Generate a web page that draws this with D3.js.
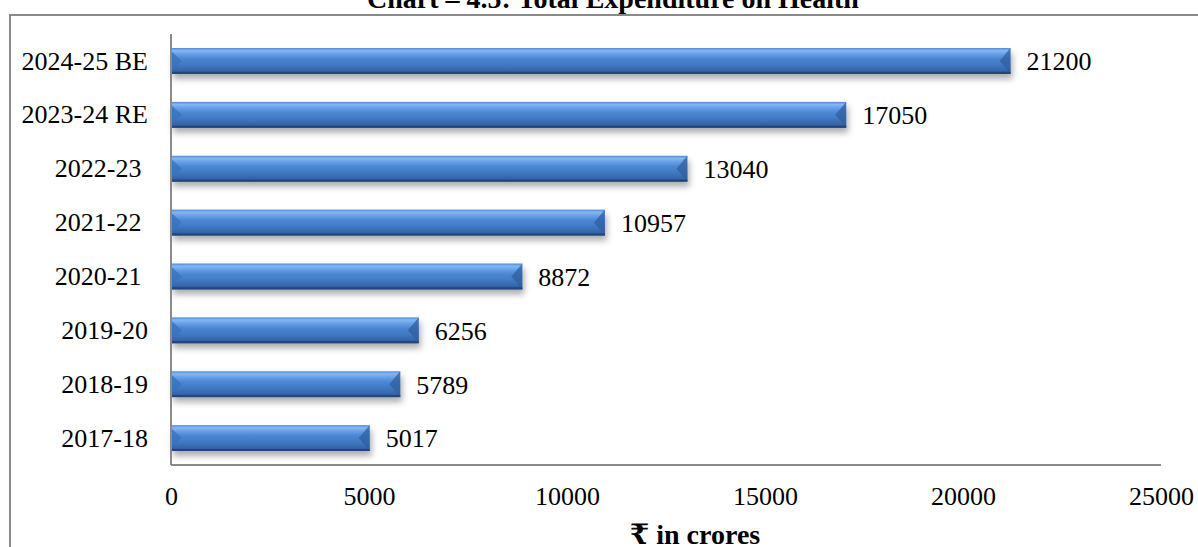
<!DOCTYPE html>
<html>
<head>
<meta charset="utf-8">
<script src="https://cdn.jsdelivr.net/npm/d3@7/dist/d3.min.js"></script>
<style>
  html, body { margin: 0; padding: 0; background: #fff; }
  svg { display: block; font-family: "Liberation Serif", "Times New Roman", "DejaVu Serif", serif; }
</style>
</head>
<body>
<svg id="chart" width="1198" height="547"></svg>
<script>
// Total expenditure on health, ₹ in crores
const categories = ["2024-25 BE", "2023-24 RE", "2022-23 ", "2021-22 ", "2020-21 ", "2019-20", "2018-19", "2017-18"];
const values = [21200, 17050, 13040, 10957, 8872, 6256, 5789, 5017];
const xTicks = [0, 5000, 10000, 15000, 20000, 25000];

const svg = d3.select("#chart");
const W = 1198, H = 547;
const plot = { left: 171, right: 1161, top: 34, bottom: 465 };
const FS = 26;

const x = d3.scaleLinear().domain([0, 25000]).range([plot.left, plot.right]);
const y = d3.scaleBand().domain(categories).range([plot.top, plot.bottom])
  .paddingInner(0.52).paddingOuter(0.26);

const defs = svg.append("defs");

// body gradient for the bevelled bars
const g = defs.append("linearGradient").attr("id", "barBody")
  .attr("x1", 0).attr("y1", 0).attr("x2", 0).attr("y2", 1);
[[0, "#4f8ad8"], [0.1, "#84b8f2"], [0.22, "#6aa2e8"], [0.4, "#4d88d4"],
 [0.65, "#4079c4"], [0.88, "#3465a8"], [1, "#264a80"]]
  .forEach(([o, c]) => g.append("stop").attr("offset", o).attr("stop-color", c));

const f = defs.append("filter").attr("id", "barShadow")
  .attr("x", "-5%").attr("y", "-30%").attr("width", "110%").attr("height", "190%");
f.append("feDropShadow").attr("dx", 2).attr("dy", 5).attr("stdDeviation", 3)
  .attr("flood-color", "#000").attr("flood-opacity", 0.32);

// outer frame (runs off the right and bottom edge)
svg.append("path")
  .attr("d", `M10,${H + 5} L10,15 L${W + 5},15`)
  .attr("fill", "none").attr("stroke", "#8a8a8a").attr("stroke-width", 2);

// title
svg.append("text")
  .attr("x", 613).attr("y", 8)
  .attr("text-anchor", "middle")
  .attr("font-size", 28).attr("font-weight", "bold")
  .text("Chart – 4.5: Total Expenditure on Health");

// bars
const bars = svg.append("g").selectAll("g.bar")
  .data(categories.map((c, i) => ({ c, v: values[i] })))
  .join("g").attr("class", "bar");

bars.append("rect")
  .attr("x", x(0)).attr("y", d => y(d.c))
  .attr("width", d => x(d.v) - x(0)).attr("height", y.bandwidth())
  .attr("fill", "url(#barBody)")
  .attr("filter", "url(#barShadow)");

const bev = y.bandwidth() / 2;
// left bevel facet
bars.append("path")
  .attr("d", d => {
    const x0 = x(0), y0 = y(d.c), y1 = y0 + y.bandwidth();
    return `M${x0},${y0 + 3} L${x0 + bev - 2},${y0 + bev} L${x0},${y1 - 3} Z`;
  })
  .attr("fill", "#3a72bd").attr("opacity", 0.8);
// right bevel facet
bars.append("path")
  .attr("d", d => {
    const x1 = x(d.v), y0 = y(d.c), y1 = y0 + y.bandwidth();
    return `M${x1},${y0} L${x1 - bev + 2},${y0 + bev} L${x1},${y1} Z`;
  })
  .attr("fill", "#2f5f9f").attr("opacity", 0.75);
// bottom edge
bars.append("rect")
  .attr("x", x(0)).attr("y", d => y(d.c) + y.bandwidth() - 2)
  .attr("width", d => x(d.v) - x(0)).attr("height", 2)
  .attr("fill", "#22457a");

// value labels
bars.append("text")
  .attr("x", d => x(d.v) + 16)
  .attr("y", d => y(d.c) + y.bandwidth() / 2)
  .attr("dy", "0.36em")
  .attr("font-size", FS)
  .text(d => d.v);

// category axis
const yAxis = svg.append("g")
  .attr("transform", `translate(${plot.left},0)`)
  .call(d3.axisLeft(y).tickSize(0).tickPadding(23));
yAxis.select(".domain").attr("stroke", "#8a8a8a").attr("stroke-width", 2)
  .attr("d", `M0,${plot.top}V${plot.bottom}`);
yAxis.selectAll("text")
  .attr("font-size", FS).attr("fill", "#000")
  .attr("font-family", "Liberation Serif, Times New Roman, serif")
  .style("white-space", "pre")
  .attr("dy", "0.33em");

// value axis
const xAxis = svg.append("g")
  .attr("transform", `translate(0,${plot.bottom})`)
  .call(d3.axisBottom(x).tickValues(xTicks).tickSize(0).tickPadding(22).tickFormat(d3.format("d")));
xAxis.select(".domain").attr("stroke", "#8a8a8a").attr("stroke-width", 2)
  .attr("d", `M${plot.left},0H${plot.right}`);
xAxis.selectAll("text")
  .attr("font-size", FS).attr("fill", "#000")
  .attr("font-family", "Liberation Serif, Times New Roman, serif");

// axis title
svg.append("text")
  .attr("x", 695).attr("y", 544)
  .attr("text-anchor", "middle")
  .attr("font-size", 28).attr("font-weight", "bold")
  .text("₹ in crores");
</script>
</body>
</html>
